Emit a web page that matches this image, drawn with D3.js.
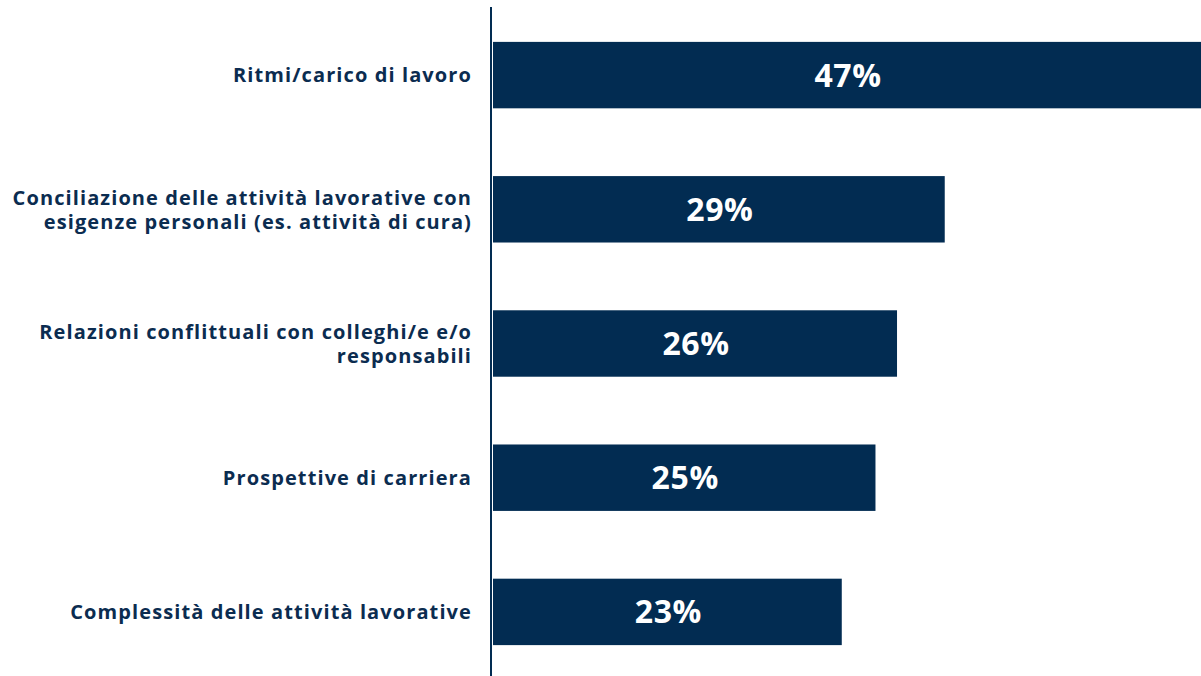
<!DOCTYPE html>
<html>
<head>
<meta charset="utf-8">
<script src="https://cdn.jsdelivr.net/npm/d3@7"></script>
<style>
  html, body { margin: 0; padding: 0; background: #ffffff; }
  svg { display: block; }
</style>
</head>
<body>
<svg id="chart" width="1201" height="676"></svg>
<script>
const categories = [
  "Ritmi/carico di lavoro",
  "Conciliazione delle attività lavorative con\nesigenze personali (es. attività di cura)",
  "Relazioni conflittuali con colleghi/e e/o\nresponsabili",
  "Prospettive di carriera",
  "Complessità delle attività lavorative"
];
const values = [47, 29.35, 26.25, 24.85, 22.66];

const W = 1201, H = 676;
const navy = "#022c52";
const textColor = "#0b2c50";

const svg = d3.select("#chart");

const x = d3.scaleLinear().domain([0, 46]).range([493, 1201]);
const y = d3.scaleBand().domain(categories).range([8, 679])
  .paddingInner(0.505).paddingOuter(0.2525);

const fmt = d => d3.format(".0f")(d) + "%";

// bars
svg.append("g").selectAll("rect")
  .data(values)
  .join("rect")
  .attr("x", x(0))
  .attr("y", (d, i) => y(categories[i]))
  .attr("width", d => Math.max(0, x(d) - x(0)))
  .attr("height", y.bandwidth())
  .attr("fill", navy);

// value labels centered in visible bar
svg.append("g").selectAll("text")
  .data(values)
  .join("text")
  .attr("x", d => (x(0) + Math.min(x(d), W)) / 2 + 1)
  .attr("y", (d, i) => y(categories[i]) + y.bandwidth() / 2)
  .attr("dy", "0.36em")
  .attr("text-anchor", "middle")
  .attr("fill", "#ffffff")
  .style("font-family", "'Open Sans', sans-serif")
  .style("font-weight", 700)
  .style("font-size", "32px")
  .style("letter-spacing", "0.6px")
  .text(fmt);

// category labels
const lab = svg.append("g").selectAll("text")
  .data(categories)
  .join("text")
  .attr("text-anchor", "end")
  .attr("fill", textColor)
  .style("font-family", "'Open Sans', sans-serif")
  .style("font-weight", 700)
  .style("font-size", "20px")
  .style("letter-spacing", "1.1px");

lab.each(function(d) {
  const lines = d.split("\n");
  const cy = y(d) + y.bandwidth() / 2;
  const lh = 24;
  const t = d3.select(this);
  lines.forEach((line, k) => {
    t.append("tspan")
      .attr("x", 472)
      .attr("y", cy + (k - (lines.length - 1) / 2) * lh)
      .attr("dy", "0.36em")
      .text(line);
  });
});

// axis line
svg.append("line")
  .attr("x1", 491).attr("x2", 491)
  .attr("y1", 7).attr("y2", H)
  .attr("stroke", navy)
  .attr("stroke-width", 2);
</script>
</body>
</html>
